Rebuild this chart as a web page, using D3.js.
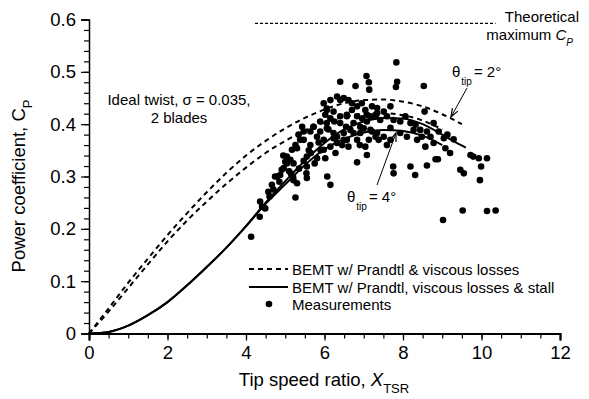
<!DOCTYPE html>
<html>
<head>
<meta charset="utf-8">
<script src="https://cdn.jsdelivr.net/npm/d3@7"></script>
<style>
  html, body { margin: 0; padding: 0; background: #fff; }
  svg { font-family: "Liberation Sans", Arial, sans-serif; }
</style>
</head>
<body>
<svg id="chart" width="589" height="399"></svg>
<script>
// Power coefficient vs tip speed ratio
const betzLimit = 16 / 27;
const betzRange = [4.23, 10.36];

const curveX = [0, 0.5, 1, 1.5, 2, 2.5, 3, 3.5, 4, 4.5, 5, 5.5, 6, 6.5, 7, 7.5, 8, 8.5, 9, 9.5];
const dashedTip2 = [0, 0.048, 0.097, 0.143, 0.188, 0.23, 0.27, 0.307, 0.34, 0.368, 0.392, 0.412, 0.428, 0.44, 0.446, 0.447, 0.443, 0.434, 0.419, 0.4];
const dashedTip4 = [0, 0.042, 0.087, 0.132, 0.176, 0.216, 0.252, 0.286, 0.317, 0.345, 0.368, 0.388, 0.403, 0.414, 0.42, 0.421, 0.417, 0.407, 0.39, null];

const solidX = [0, 0.5, 1, 1.5, 2, 2.5, 3, 3.5, 4, 4.5, 5, 5.5, 6, 6.5, 7, 7.5, 8, 8.5, 9, 9.3, 9.6];
const solidTip2 = [0, 0.003, 0.015, 0.035, 0.06, 0.092, 0.127, 0.164, 0.205, 0.25, 0.291, 0.33, 0.364, 0.39, 0.405, 0.412, 0.411, 0.4, 0.38, 0.367, 0.355];
const solidTip4 = [0, 0.003, 0.015, 0.035, 0.06, 0.092, 0.127, 0.164, 0.205, 0.248, 0.285, 0.322, 0.352, 0.372, 0.384, 0.389, 0.387, 0.378, 0.36, null, null];

// measurements [X_TSR, Cp]
const measX = [
  4.13, 4.35, 4.41, 4.49, 4.36, 4.57, 4.66, 4.74, 4.79, 4.87, 4.91, 4.96, 5.0, 5.04, 5.04, 5.13, 5.17, 5.21, 5.21, 5.3,
  5.2, 5.26, 5.3, 5.34, 5.38, 5.43, 5.47, 5.47, 5.54, 5.55, 5.55, 5.55, 5.64, 5.64, 5.72, 5.72, 5.81, 5.81, 5.89, 5.89,
  5.98, 5.98, 5.98, 6.02, 6.02, 6.06, 6.06, 6.06, 6.06, 6.07, 6.15, 6.15, 6.15, 6.15, 6.23, 6.23, 6.23, 6.32, 6.32, 6.32,
  6.4, 6.4, 6.4, 6.4, 6.49, 6.49, 6.49, 6.57, 6.57, 6.57, 6.61, 6.61, 6.66, 6.7, 6.7, 6.74, 6.74, 6.79, 6.83, 6.83,
  6.83, 6.83, 6.91, 6.91, 6.95, 6.96, 7.0, 7.04, 7.04, 7.07, 7.08, 7.08, 7.08, 7.13, 7.13, 7.14, 7.17, 7.17, 7.21, 7.21,
  7.3, 7.3, 7.34, 7.34, 7.34, 7.38, 7.42, 7.51, 7.51, 7.59, 7.59, 7.68, 7.68, 7.68, 7.75, 7.76, 7.76, 7.82, 7.83, 7.85,
  7.93, 7.93, 8.06, 8.1, 8.19, 8.19, 8.27, 8.31, 8.32, 8.36, 8.44, 8.48, 8.53, 8.55, 8.57, 8.61, 8.61, 8.7, 8.78, 8.78,
  8.83, 8.89, 8.91, 9.02, 9.04, 9.08, 9.13, 9.2, 9.29, 9.46, 9.52, 9.55, 9.72, 9.79, 9.93, 9.96, 9.99, 10.14, 10.14, 10.36,
  5.26, 5.47, 4.6, 4.7, 5.1, 5.65, 5.9, 6.28, 6.45, 6.9, 5.35, 5.6, 4.85, 5.75, 6.1, 6.55, 5.15, 4.95, 5.85, 6.25
];
const measCp = [
  0.185, 0.223, 0.242, 0.239, 0.252, 0.271, 0.284, 0.3, 0.3, 0.303, 0.313, 0.316, 0.328, 0.338, 0.325, 0.332, 0.351, 0.325, 0.293, 0.287,
  0.299, 0.36, 0.354, 0.38, 0.37, 0.395, 0.386, 0.37, 0.306, 0.338, 0.319, 0.297, 0.386, 0.36, 0.395, 0.395, 0.335, 0.376, 0.405, 0.386,
  0.351, 0.37, 0.44, 0.418, 0.335, 0.402, 0.392, 0.43, 0.427, 0.3, 0.411, 0.357, 0.446, 0.284, 0.424, 0.373, 0.383, 0.364, 0.376, 0.453,
  0.402, 0.446, 0.415, 0.481, 0.383, 0.37, 0.45, 0.415, 0.418, 0.37, 0.446, 0.357, 0.389, 0.44, 0.427, 0.402, 0.383, 0.473, 0.37, 0.434,
  0.415, 0.327, 0.383, 0.395, 0.44, 0.411, 0.392, 0.357, 0.427, 0.492, 0.405, 0.418, 0.341, 0.37, 0.48, 0.466, 0.415, 0.389, 0.434, 0.386,
  0.376, 0.415, 0.421, 0.431, 0.383, 0.37, 0.408, 0.424, 0.376, 0.36, 0.415, 0.434, 0.393, 0.37, 0.319, 0.306, 0.408, 0.471, 0.518, 0.481,
  0.405, 0.383, 0.415, 0.376, 0.402, 0.319, 0.389, 0.303, 0.399, 0.37, 0.389, 0.376, 0.473, 0.424, 0.357, 0.386, 0.321, 0.376, 0.402, 0.364,
  0.333, 0.333, 0.386, 0.217, 0.373, 0.354, 0.38, 0.345, 0.371, 0.313, 0.235, 0.306, 0.341, 0.338, 0.335, 0.293, 0.319, 0.335, 0.234, 0.235,
  0.26, 0.33, 0.262, 0.275, 0.31, 0.345, 0.35, 0.345, 0.36, 0.36, 0.315, 0.35, 0.29, 0.325, 0.39, 0.395, 0.305, 0.34, 0.365, 0.405
];

const xTicks = [0, 2, 4, 6, 8, 10, 12];
const yTicks = [0, 0.1, 0.2, 0.3, 0.4, 0.5, 0.6];

const svg = d3.select("#chart");
const x = d3.scaleLinear().domain([0, 12]).range([89, 560]);
const y = d3.scaleLinear().domain([0, 0.6]).range([333.5, 19.5]);

// minor ticks
svg.append("g")
  .attr("transform", "translate(0,333.5)")
  .call(d3.axisBottom(x).tickValues(d3.range(0, 12.01, 0.5)).tickSize(5).tickFormat(""))
  .call(g => g.select(".domain").remove());
svg.append("g")
  .attr("transform", "translate(89,0)")
  .call(d3.axisLeft(y).tickValues(d3.range(0, 0.601, 0.02)).tickSize(5).tickFormat(""))
  .call(g => g.select(".domain").remove());

// major axes
const xAxis = svg.append("g")
  .attr("transform", "translate(0,333.5)")
  .call(d3.axisBottom(x).tickValues(xTicks).tickSize(7).tickPadding(5).tickFormat(d3.format("d")));
xAxis.select(".domain").attr("stroke-width", 2.2);
const yAxis = svg.append("g")
  .attr("transform", "translate(89,0)")
  .call(d3.axisLeft(y).tickValues(yTicks).tickSize(8).tickPadding(5).tickFormat(d => d === 0 ? "0" : d3.format(".1f")(d)));
yAxis.select(".domain").attr("stroke-width", 1.5);
svg.selectAll(".tick line").attr("stroke-width", 1.2);
svg.selectAll(".tick text").attr("font-size", 18.5).attr("font-family", "Liberation Sans, Arial, sans-serif").attr("fill", "#000");

// curves
const line = d3.line().defined(d => d[1] != null).x(d => x(d[0])).y(d => y(d[1])).curve(d3.curveMonotoneX);
const addCurve = (xs, ys, dash) => svg.append("path")
  .attr("d", line(xs.map((v, i) => [v, ys[i]])))
  .attr("fill", "none").attr("stroke", "#000").attr("stroke-width", 2)
  .attr("stroke-dasharray", dash);
addCurve(curveX, dashedTip2, "5,4");
addCurve(curveX, dashedTip4, "5,4");
addCurve(solidX, solidTip2, null);
addCurve(solidX, solidTip4, null);

// Betz limit
svg.append("line")
  .attr("x1", x(betzRange[0])).attr("x2", x(betzRange[1]))
  .attr("y1", y(betzLimit)).attr("y2", y(betzLimit))
  .attr("stroke", "#000").attr("stroke-width", 1.2).attr("stroke-dasharray", "3,2");

// measurements
svg.append("g").selectAll("circle")
  .data(measX.map((v, i) => [v, measCp[i]]))
  .join("circle")
  .attr("cx", d => x(d[0])).attr("cy", d => y(d[1])).attr("r", 3.3).attr("fill", "#000");

// text annotations
const txt = (px, py, size, anchor) => svg.append("text")
  .attr("x", px).attr("y", py).attr("font-size", size).attr("text-anchor", anchor || "start").attr("fill", "#000");

txt(179, 105, 15, "middle").text("Ideal twist, \u03C3 = 0.035,");
txt(179, 123, 15, "middle").text("2 blades");

txt(579, 22, 15, "end").text("Theoretical");
const tm = txt(573, 40, 15, "end");
tm.append("tspan").text("maximum ");
tm.append("tspan").attr("font-style", "italic").text("C");
tm.append("tspan").attr("font-size", 10).attr("font-style", "italic").attr("dy", 6).text("P");

const t2 = txt(452, 77, 15);
t2.append("tspan").text("\u03B8");
t2.append("tspan").attr("font-size", 10).attr("dy", 8).attr("dx", 1).text("tip");
t2.append("tspan").attr("dy", -8).attr("dx", 2).text("= 2\u00B0");

const t4 = txt(347, 202, 15);
t4.append("tspan").text("\u03B8");
t4.append("tspan").attr("font-size", 10).attr("dy", 8).attr("dx", 1).text("tip");
t4.append("tspan").attr("dy", -8).attr("dx", 2).text("= 4\u00B0");

// arrows
const arrow = (x1, y1, x2, y2) => {
  svg.append("line").attr("x1", x1).attr("y1", y1).attr("x2", x2).attr("y2", y2)
    .attr("stroke", "#000").attr("stroke-width", 1);
  const a = Math.atan2(y2 - y1, x2 - x1), L = 9, w = 0.35;
  svg.append("path")
    .attr("d", `M${x2 - L * Math.cos(a - w)},${y2 - L * Math.sin(a - w)}L${x2},${y2}L${x2 - L * Math.cos(a + w)},${y2 - L * Math.sin(a + w)}`)
    .attr("fill", "none").attr("stroke", "#000").attr("stroke-width", 1.2);
};
arrow(467, 88, 451, 117);
arrow(377, 185, 396, 133);

// legend
const lg = svg.append("g");
lg.append("line").attr("x1", 249).attr("x2", 288).attr("y1", 269).attr("y2", 269)
  .attr("stroke", "#000").attr("stroke-width", 2).attr("stroke-dasharray", "5,4");
lg.append("line").attr("x1", 249).attr("x2", 288).attr("y1", 287).attr("y2", 287)
  .attr("stroke", "#000").attr("stroke-width", 2);
lg.append("circle").attr("cx", 269).attr("cy", 304).attr("r", 3.3).attr("fill", "#000");
txt(292, 275, 15).text("BEMT w/ Prandtl & viscous losses");
txt(292, 293, 15).text("BEMT w/ Prandtl, viscous losses & stall");
txt(292, 310, 15).text("Measurements");

// axis titles
const xt = txt(324, 386, 18.5, "middle");
xt.append("tspan").text("Tip speed ratio, ");
xt.append("tspan").attr("font-style", "italic").text("X");
xt.append("tspan").attr("font-size", 13).attr("dy", 7).text("TSR");

const yt = svg.append("text").attr("transform", "translate(25,186) rotate(-90)")
  .attr("text-anchor", "middle").attr("font-size", 18.5).attr("fill", "#000");
yt.append("tspan").text("Power coefficient, C");
yt.append("tspan").attr("font-size", 13).attr("dy", 7).text("P");
</script>
</body>
</html>
